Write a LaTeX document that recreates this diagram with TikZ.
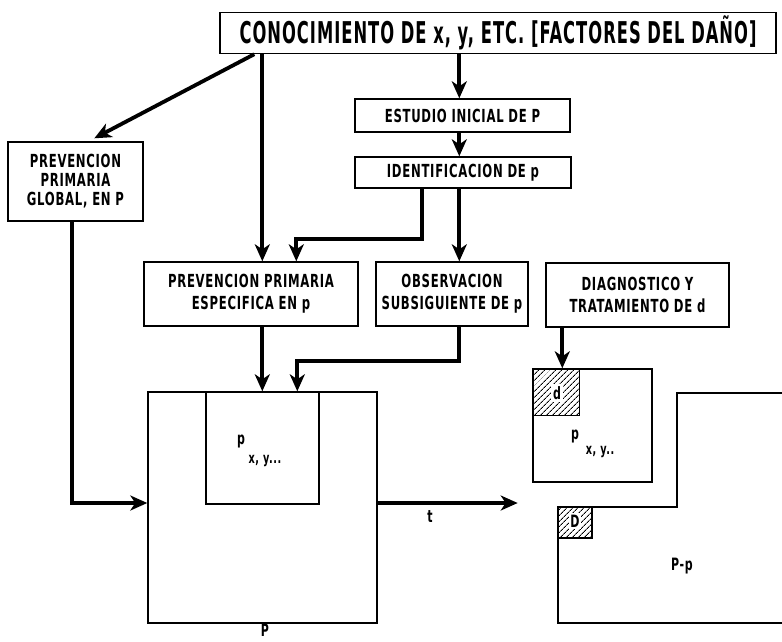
\documentclass[tikz,border=0pt]{standalone}
\usepackage{fontspec}
\newfontfamily\cf{DejaVu Sans Condensed}[FakeStretch=0.72,LetterSpace=4]
\usetikzlibrary{arrows.meta,patterns.meta}
\begin{document}
\begin{tikzpicture}[x=1pt,y=-1pt,
  box/.style={draw,line width=1.4pt,align=center,inner sep=0pt,
    font=\cf\bfseries\fontsize{18}{19}\selectfont},
  twoline/.style={font=\cf\bfseries\fontsize{18}{22}\selectfont},
  plain/.style={draw,line width=1.4pt,inner sep=0pt},
  arr/.style={line width=3.8pt,-{Stealth[length=17pt,width=15pt,inset=5pt]}},
  lbl/.style={font=\cf\bfseries\fontsize{17}{18}\selectfont,inner sep=1pt},
  small lbl/.style={font=\cf\bfseries\fontsize{15}{16}\selectfont,inner sep=1pt},
  hatch/.style={pattern={Lines[angle=45,distance=4pt,line width=0.9pt]}}
]
\useasboundingbox (0,0) rectangle (782,641);
% boxes
\node[box,minimum width=556pt,minimum height=41pt,font=\cf\bfseries\fontsize{30}{32}\selectfont] (top) at (498,33) {\scalebox{0.84}[1]{CONOCIMIENTO DE x, y, ETC. [FACTORES DEL DAÑO]}};
\node[box,minimum width=135pt,minimum height=79pt,font=\cf\bfseries\fontsize{18}{19}\selectfont] (glob) at (75.5,181.5) {PREVENCION\\PRIMARIA\\GLOBAL, EN P};
\node[box,minimum width=215pt,minimum height=33pt] (est) at (462.5,115.5) {ESTUDIO INICIAL DE P};
\node[box,minimum width=216pt,minimum height=31pt] (ident) at (463,172.5) {IDENTIFICACION DE p};
\node[box,twoline,minimum width=214pt,minimum height=64pt] (espec) at (251,294) {PREVENCION PRIMARIA\\ESPECIFICA EN p};
\node[box,twoline,minimum width=152pt,minimum height=64pt] (obs) at (452,294) {OBSERVACION\\SUBSIGUIENTE DE p};
\node[box,twoline,minimum width=183pt,minimum height=64pt] (diag) at (637.5,295) {DIAGNOSTICO Y\\TRATAMIENTO DE d};
% population boxes
\node[plain,minimum width=229pt,minimum height=231pt] (big) at (262.5,507.5) {};
\node[plain,minimum width=113pt,minimum height=112pt] (inner) at (262.5,448) {};
\node[lbl] (pin) at (241,441) {p};
\node[small lbl] (xyin) at (265,461) {x, y...};
\node[lbl,inner sep=0pt] (bigP) at (265,630) {P};
\node[plain,minimum width=119pt,minimum height=113pt] (small) at (592.5,425.5) {};
\fill[hatch] (small.north west) rectangle ++(47,47);
\draw[line width=1.6pt] (small.north west) ++(0,47) -| ([xshift=47pt]small.north west);
\node[lbl,fill=white,inner sep=2pt] (dlab) at (557,393) {d};
\node[lbl] (psm) at (575,436) {p};
\node[small lbl] (xysm) at (600,452) {x, y..};
% remaining population
\draw[line width=1.4pt] (782,393) -- (677,393) -- (677,507) -- (558,507) -- (558,623) -- (782,623);
\fill[hatch] (558,507) rectangle (592,538);
\draw[line width=1.6pt] (558,507) rectangle (592,538);
\node[lbl,fill=white,inner sep=1.5pt] (Dlab) at (575,521) {D};
\node[lbl] (pp) at (682,566) {P-p};
% connectors
\draw[arr] ([xshift=35pt]top.south west) -- ([xshift=87pt,yshift=3pt]glob.north west);
\draw[arr] ([xshift=43pt]top.south west) -- ([xshift=119pt]espec.north west);
\draw[arr] ([xshift=240pt]top.south west) -- ([xshift=105pt]est.north west);
\draw[arr] ([xshift=105pt]est.south west) -- ([xshift=105pt]ident.north west);
\draw[arr] ([xshift=68pt]ident.south west) -- ++(0,50) -| ([xshift=153pt]espec.north west);
\draw[arr] ([xshift=105pt]ident.south west) -- ([xshift=84pt]obs.north west);
\draw[arr] ([xshift=119pt]espec.south west) -- ([xshift=57pt]inner.north west);
\draw[arr] ([xshift=84pt]obs.south west) -- ++(0,34) -| ([xshift=92pt]inner.north west);
\draw[arr] ([xshift=17pt]diag.south west) -- ([xshift=30pt]small.north west);
\draw[arr] ([xshift=-3.5pt]glob.south) |- ([yshift=4.5pt]big.west);
\draw[arr] ([yshift=4.5pt]big.east) -- ++(140,0) coordinate (tend);
\node[lbl] (tlab) at (430,517) {t};
\end{tikzpicture}
\end{document}
